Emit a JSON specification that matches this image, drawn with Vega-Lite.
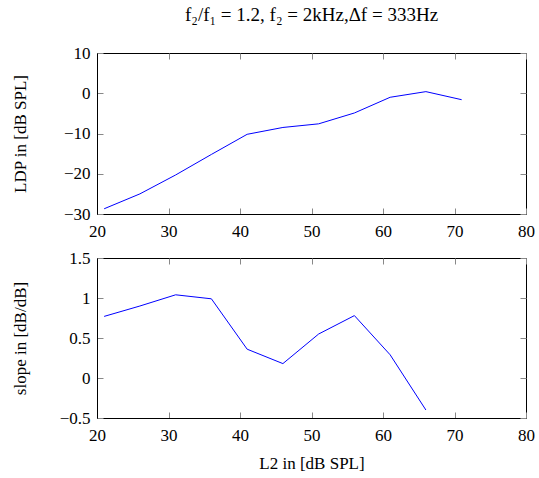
{
  "$schema": "https://vega.github.io/schema/vega-lite/v6.json",
  "background": "white",
  "padding": {"left": 10, "top": 5, "right": 5, "bottom": 5},
  "spacing": 8,
  "config": {
    "font": "Liberation Serif",
    "view": {"stroke": "black", "strokeWidth": 1},
    "axis": {
      "grid": false,
      "labelFont": "Liberation Serif",
      "labelFontSize": 17,
      "labelColor": "black",
      "labelFlush": false,
      "labelOverlap": false,
      "titleFont": "Liberation Serif",
      "titleFontSize": 17,
      "titleFontWeight": "normal",
      "titleColor": "black",
      "domainColor": "black",
      "domainWidth": 1,
      "tickColor": "#888888",
      "tickWidth": 1,
      "tickSize": -6
    },
    "axisX": {"labelPadding": 15},
    "axisY": {"labelPadding": 13}
  },
  "datasets": {
    "ldp": [
      {"L2": 21, "LDP": -28.7},
      {"L2": 26, "LDP": -25.0},
      {"L2": 31, "LDP": -20.3},
      {"L2": 36, "LDP": -15.2},
      {"L2": 41, "LDP": -10.2},
      {"L2": 46, "LDP": -8.5},
      {"L2": 51, "LDP": -7.6},
      {"L2": 56, "LDP": -4.9},
      {"L2": 61, "LDP": -1.0},
      {"L2": 66, "LDP": 0.4},
      {"L2": 71, "LDP": -1.6}
    ],
    "slope": [
      {"L2": 21, "slope": 0.77},
      {"L2": 26, "slope": 0.90},
      {"L2": 31, "slope": 1.04},
      {"L2": 36, "slope": 0.99},
      {"L2": 41, "slope": 0.36},
      {"L2": 46, "slope": 0.18},
      {"L2": 51, "slope": 0.55},
      {"L2": 56, "slope": 0.78},
      {"L2": 61, "slope": 0.29},
      {"L2": 66, "slope": -0.40}
    ]
  },
  "vconcat": [
    {
      "width": 429,
      "height": 161,
      "title": {"text": "f₂/f₁ = 1.2, f₂ = 2kHz,Δf = 333Hz", "font": "Liberation Serif", "fontSize": 19, "fontWeight": "normal", "color": "black", "offset": 19, "anchor": "middle"},
      "data": {"name": "ldp"},
      "layer": [
        {
          "mark": {"type": "line", "color": "#0000ff", "strokeWidth": 1},
          "encoding": {
            "x": {"field": "L2", "type": "quantitative", "scale": {"domain": [20, 80], "nice": false},
                  "axis": {"title": null, "values": [20, 30, 40, 50, 60, 70, 80]}},
            "y": {"field": "LDP", "type": "quantitative", "scale": {"domain": [-30, 10], "nice": false},
                  "axis": {"title": "LDP in [dB SPL]", "values": [-30, -20, -10, 0, 10], "titlePadding": 34}}
          }
        },
        {
          "mark": {"type": "line", "strokeOpacity": 0},
          "encoding": {
            "x": {"field": "L2", "type": "quantitative",
                  "axis": {"orient": "top", "title": null, "labels": false, "domain": false, "values": [20, 30, 40, 50, 60, 70, 80]}},
            "y": {"field": "LDP", "type": "quantitative",
                  "axis": {"orient": "right", "title": null, "labels": false, "domain": false, "values": [-30, -20, -10, 0, 10]}}
          }
        }
      ],
      "resolve": {"axis": {"x": "independent", "y": "independent"}}
    },
    {
      "width": 429,
      "height": 160,
      "data": {"name": "slope"},
      "layer": [
        {
          "mark": {"type": "line", "color": "#0000ff", "strokeWidth": 1},
          "encoding": {
            "x": {"field": "L2", "type": "quantitative", "scale": {"domain": [20, 80], "nice": false},
                  "axis": {"title": "L2 in [dB SPL]", "values": [20, 30, 40, 50, 60, 70, 80], "titlePadding": 12}},
            "y": {"field": "slope", "type": "quantitative", "scale": {"domain": [-0.5, 1.5], "nice": false},
                  "axis": {"title": "slope in [dB/dB]", "values": [-0.5, 0, 0.5, 1, 1.5], "format": "~f", "titlePadding": 30}}
          }
        },
        {
          "mark": {"type": "line", "strokeOpacity": 0},
          "encoding": {
            "x": {"field": "L2", "type": "quantitative",
                  "axis": {"orient": "top", "title": null, "labels": false, "domain": false, "values": [20, 30, 40, 50, 60, 70, 80]}},
            "y": {"field": "slope", "type": "quantitative",
                  "axis": {"orient": "right", "title": null, "labels": false, "domain": false, "values": [-0.5, 0, 0.5, 1, 1.5]}}
          }
        }
      ],
      "resolve": {"axis": {"x": "independent", "y": "independent"}}
    }
  ]
}
